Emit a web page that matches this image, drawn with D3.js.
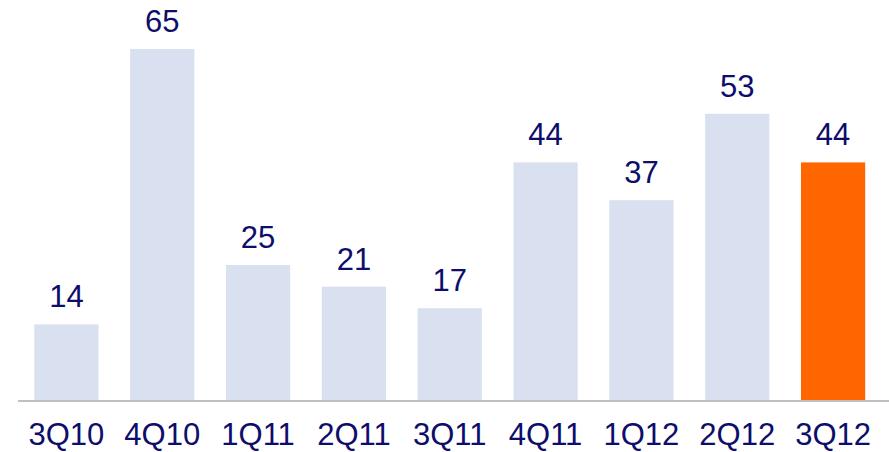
<!DOCTYPE html>
<html>
<head>
<meta charset="utf-8">
<script src="https://cdn.jsdelivr.net/npm/d3@7"></script>
<style>
  body { margin: 0; background: #fff; }
  text { font-family: "Liberation Sans", Arial, sans-serif; fill: #0d0d6b; }
</style>
</head>
<body>
<div id="chart"></div>
<script>
const quarters = ['3Q10', '4Q10', '1Q11', '2Q11', '3Q11', '4Q11', '1Q12', '2Q12', '3Q12'];
const values = [14, 65, 25, 21, 17, 44, 37, 53, 44];
const highlight = ['3Q12'];

const width = 889, height = 452;
const baseY = 400;

const svg = d3.select('#chart').append('svg')
  .attr('width', width)
  .attr('height', height);

const x = d3.scaleBand()
  .domain(quarters)
  .range([18.5, 881])
  .paddingInner(0.33)
  .paddingOuter(0.165);

const y = d3.scaleLinear()
  .domain([0, 65])
  .range([baseY, 49]);

svg.append('g').selectAll('rect')
  .data(quarters)
  .enter().append('rect')
  .attr('x', d => x(d))
  .attr('y', (d, i) => y(values[i]))
  .attr('width', x.bandwidth())
  .attr('height', (d, i) => baseY - y(values[i]))
  .style('fill', d => highlight.includes(d) ? '#ff6600' : '#d9e0ef');

svg.append('line')
  .attr('x1', 18).attr('x2', width)
  .attr('y1', baseY + 1).attr('y2', baseY + 1)
  .style('stroke', '#c0c0c0')
  .style('stroke-width', 2);

svg.append('g').selectAll('text')
  .data(quarters)
  .enter().append('text')
  .attr('x', (d, i) => x(d) + x.bandwidth() / 2)
  .attr('y', (d, i) => y(values[i]) - 17)
  .attr('text-anchor', 'middle')
  .style('font-size', '31px')
  .text((d, i) => values[i]);

svg.append('g').selectAll('text')
  .data(quarters)
  .enter().append('text')
  .attr('x', d => x(d) + x.bandwidth() / 2)
  .attr('y', 445)
  .attr('text-anchor', 'middle')
  .style('font-size', '31px')
  .text(d => d);
</script>
</body>
</html>
